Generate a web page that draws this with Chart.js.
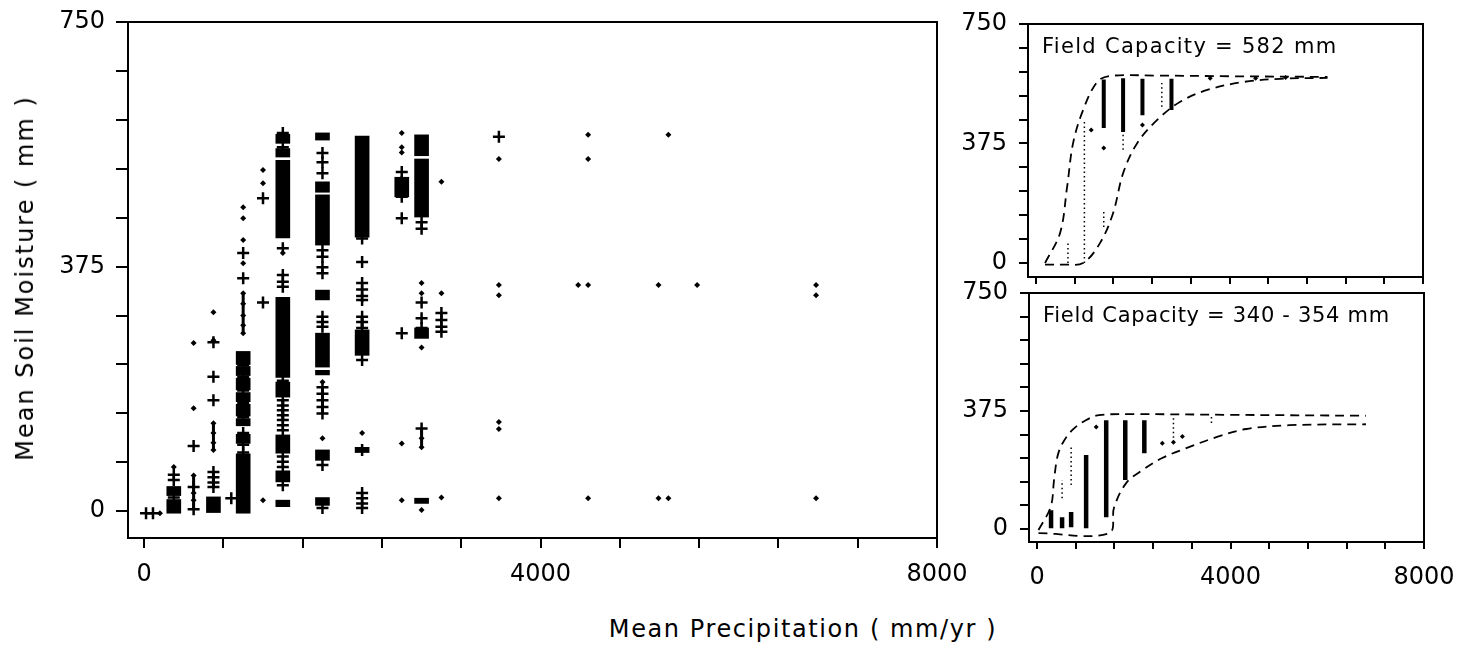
<!DOCTYPE html>
<html>
<head>
<meta charset="utf-8">
<script src="https://cdn.jsdelivr.net/npm/chart.js@4"></script>
<style>
  body { margin: 0; background: #fff; width: 1469px; height: 649px; overflow: hidden; position: relative; font-family: "DejaVu Sans", sans-serif; color: #000; }
  .box { position: absolute; }
  .lbl { position: absolute; white-space: nowrap; line-height: 1; }
</style>
</head>
<body>
<div class="box" style="left:0;top:0;width:985px;height:600px"><canvas id="mainChart"></canvas></div>
<div class="box" style="left:960px;top:0;width:500px;height:290px"><canvas id="topChart"></canvas></div>
<div class="box" style="left:960px;top:270px;width:509px;height:330px"><canvas id="bottomChart"></canvas></div>

<div class="lbl" id="yTitle" style="left:25px;top:278px;font-size:24px;letter-spacing:2px;transform:translate(-50%,-50%) rotate(-90deg)">Mean Soil Moisture ( mm )</div>
<div class="lbl" style="left:803px;top:629px;font-size:24px;letter-spacing:1.6px;transform:translate(-50%,-50%)">Mean Precipitation ( mm/yr )</div>
<div class="lbl" style="left:1042px;top:46px;font-size:21px;letter-spacing:1.3px;transform:translateY(-50%)">Field Capacity = 582 mm</div>
<div class="lbl" style="left:1043px;top:315px;font-size:21px;letter-spacing:0.7px;transform:translateY(-50%)">Field Capacity = 340 - 354 mm</div>

<script>
// axis ticks
const xTickVals = [0, 800, 1600, 2400, 3200, 4000, 4800, 5600, 6400, 7200, 8000];
const xLabelVals = [0, 4000, 8000];
const yTickVals = [0, 75, 150, 225, 300, 375, 450, 525, 600, 675, 750];
const yLabelVals = [0, 375, 750];

// main panel: [precip, low, high] solid runs of overlapping points
const mainBlocks = [
  [300, -3, 18], [300, 24, 38],
  [700, -2, 22],
  [1000, 225, 245], [1000, 208, 222], [1000, 186, 204], [1000, 168, 182], [1000, 146, 164],
  [1000, 131, 142], [1000, 104, 118], [1000, -3, 88],
  [1400, 564, 578], [1400, 543, 556], [1400, 419, 538], [1400, 205, 328], [1400, 175, 198],
  [1400, 89, 117], [1400, 45, 62], [1400, 7, 17],
  [1800, 569, 580], [1800, 489, 505], [1800, 408, 485], [1800, 324, 339], [1800, 221, 273],
  [1800, 209, 216], [1800, 78, 94], [1800, 9, 21],
  [2200, 420, 575], [2200, 239, 278], [2200, 90, 98],
  [2600, 482, 512],
  [2800, 545, 577], [2800, 451, 540], [2800, 265, 281], [2800, 12, 20]
];
// thin runs (vertical arms of the crosses)
const mainThin = [
  [500, 3, 55], [700, 94, 135], [700, 37, 60], [1000, 273, 334], [1400, 140, 170],
  [1800, 150, 190], [2200, 281, 298], [2800, 98, 127]
];
// single "+" points [precip, moisture]
const mainCrosses = [
  [20, -3], [90, -3],
  [300, 48], [300, 56], [300, 21],
  [500, 100], [500, 37], [500, 3],
  [700, 259], [700, 206], [700, 170], [700, 60], [700, 52], [700, 44], [700, 37],
  [880, 20],
  [1000, 396], [1000, 357], [1000, 224], [1000, 206], [1000, 185], [1000, 166], [1000, 144],
  [1000, 120], [1000, 102], [1000, 90],
  [1200, 480], [1200, 320],
  [1400, 580], [1400, 558], [1400, 403], [1400, 362], [1400, 352], [1400, 344], [1400, 300],
  [1400, 270], [1400, 238], [1400, 200], [1400, 170], [1400, 162], [1400, 155], [1400, 147],
  [1400, 140], [1400, 132], [1400, 124], [1400, 84], [1400, 76], [1400, 68], [1400, 40],
  [1800, 549], [1800, 535], [1800, 518], [1800, 400], [1800, 390], [1800, 374], [1800, 365],
  [1800, 298], [1800, 290], [1800, 283], [1800, 190], [1800, 180], [1800, 170], [1800, 160],
  [1800, 150], [1800, 71], [1800, 5],
  [2200, 418], [2200, 382], [2200, 350], [2200, 340], [2200, 330], [2200, 324], [2200, 298],
  [2200, 290], [2200, 281], [2200, 232], [2200, 94], [2200, 28], [2200, 20], [2200, 12], [2200, 5],
  [2600, 520], [2600, 505], [2600, 495], [2600, 482], [2600, 449], [2600, 273],
  [2800, 443], [2800, 433], [2800, 320], [2800, 296], [2800, 281], [2800, 127],
  [3000, 304], [3000, 293], [3000, 283], [3000, 275],
  [3580, 574]
];
// small diamond dots
const mainDots = [
  [160, -3],
  [300, 68],
  [500, 258], [500, 158], [500, 55], [500, 28], [500, 17],
  [700, 305], [700, 262], [700, 135], [700, 120], [700, 105], [700, 94],
  [1000, 466], [1000, 449], [1000, 416], [1000, 380], [1000, 334], [1000, 318], [1000, 300],
  [1000, 285], [1000, 273],
  [1200, 523], [1200, 503], [1200, 17],
  [1400, 396],
  [1800, 198], [1800, 112],
  [2200, 120],
  [2600, 580], [2600, 558], [2600, 550], [2600, 104], [2600, 17],
  [2800, 350], [2800, 334], [2800, 251], [2800, 112], [2800, 98], [2800, 2],
  [3000, 505], [3000, 334], [3000, 21],
  [3580, 540], [3580, 347], [3580, 331], [3580, 137], [3580, 126], [3580, 20],
  [4380, 347],
  [4480, 577], [4480, 540], [4480, 347], [4480, 20],
  [5190, 347], [5190, 20],
  [5290, 577], [5290, 20],
  [5580, 347],
  [6780, 347], [6780, 331], [6780, 20]
];

// top right panel (field capacity 582 mm)
const topUpperX = [186, 497, 642, 766, 973, 1263, 1532, 2500, 4000, 6025];
const topUpperY = [0, 94, 238, 376, 480, 568, 587, 588, 586, 584];
const topLowerX = [186, 600, 973, 1325, 1594, 1801, 2091, 2505, 2981, 3540, 4286, 5052, 6025];
const topLowerY = [-5, -5, 0, 63, 157, 282, 376, 449, 506, 543, 568, 578, 581];
const topThick = [[1400, 424, 576], [1800, 411, 580], [2200, 464, 578], [2800, 480, 578]];
const topDotted = [[1000, 0, 450], [1400, 113, 160], [1800, 355, 411], [2600, 490, 565], [660, 0, 70]];
const topDots = [[1400, 361], [2200, 433], [1140, 417], [3600, 580], [4540, 580], [5160, 582]];

// bottom right panel (field capacity 340-354 mm)
const botUpperX = [30, 283, 352, 421, 525, 732, 1009, 1285, 2000, 4000, 6800];
const botUpperY = [-3, 71, 156, 230, 272, 315, 346, 362, 365, 363, 360];
const botLowerX = [30, 1490, 1594, 1843, 2174, 2588, 3085, 3706, 4327, 5217, 6800];
const botLowerY = [-13, -13, 70, 146, 187, 226, 257, 292, 318, 330, 333];
const botThick = [[290, 3, 60], [518, 3, 38], [705, 6, 54], [1015, 3, 235], [1430, 38, 346], [1824, 156, 346], [2218, 241, 346]];
const botDotted = [[518, 98, 156], [705, 140, 260], [2820, 276, 362], [3606, 337, 362]];
const botDots = [[2590, 273], [2820, 276], [3005, 294], [1223, 324]];

Chart.defaults.font.family = 'DejaVu Sans';
Chart.defaults.color = '#000';

const tickFont = { family: 'DejaVu Sans', size: 24 };

function pts(list) { return list.map(p => ({ x: p[0], y: p[1] })); }
function ranges(list) { return list.map(r => ({ x: r[0], y: [r[1], r[2]] })); }
function curve(xs, ys) { return xs.map((x, i) => ({ x: x, y: ys[i] })); }
// vertical segments as one line with gaps between them
function segs(list) {
  const out = [];
  list.forEach(s => { out.push({ x: s[0], y: s[1] }, { x: s[0], y: s[2] }, { x: s[0], y: null }); });
  return out;
}

function crossSet(list, r) {
  return { type: 'scatter', data: pts(list), pointStyle: 'cross', pointRadius: r, borderColor: '#000', pointBorderWidth: 2.5 };
}
function dotSet(list, r) {
  return { type: 'scatter', data: pts(list), pointStyle: 'rectRot', pointRadius: r, backgroundColor: '#000', borderColor: '#000', pointBorderWidth: 0 };
}
function vLines(list, w, dash) {
  return { type: 'line', data: segs(list), borderColor: '#000', borderWidth: w, borderDash: dash, pointRadius: 0, spanGaps: false, tension: 0 };
}
function envelope(xs, ys) {
  return { type: 'line', data: curve(xs, ys), borderColor: '#000', borderWidth: 1.8, borderDash: [9, 6], pointRadius: 0, tension: 0.35, fill: false };
}

// box round the plot area
const frame = {
  id: 'frame',
  afterDraw(chart) {
    const a = chart.chartArea, ctx = chart.ctx;
    ctx.save();
    ctx.strokeStyle = '#000';
    ctx.lineWidth = 2;
    ctx.strokeRect(a.left, a.top, a.right - a.left, a.bottom - a.top);
    ctx.restore();
  }
};

function makeChart(id, datasets, g) {
  return new Chart(document.getElementById(id), {
    type: 'scatter',
    data: { datasets: datasets },
    options: {
      responsive: true,
      maintainAspectRatio: false,
      animation: false,
      layout: { padding: { top: g.padTop, right: g.padRight, left: 0, bottom: 0 } },
      plugins: { legend: { display: false }, tooltip: { enabled: false } },
      scales: {
        x: {
          type: 'linear', min: g.xMin, max: 8000, offset: false,
          afterBuildTicks: s => { s.ticks = xTickVals.map(v => ({ value: v })); },
          afterFit: s => { s.height = g.xHeight; s.paddingLeft = 0; s.paddingRight = 0; },
          ticks: {
            display: g.xLabels, autoSkip: false, maxRotation: 0, padding: g.xPad, font: tickFont, color: '#000',
            callback: v => xLabelVals.includes(v) ? String(v) : ''
          },
          grid: { display: true, drawOnChartArea: false, drawTicks: true, tickLength: g.xTick, color: '#000', lineWidth: 2, offset: false },
          border: { display: true, color: '#000', width: 2 }
        },
        y: {
          type: 'linear', min: g.yMin, max: 750, stacked: false,
          afterBuildTicks: s => { s.ticks = yTickVals.map(v => ({ value: v })); },
          afterFit: s => { s.width = g.yWidth; s.paddingTop = 0; s.paddingBottom = 0; },
          ticks: {
            autoSkip: false, padding: g.yPad, font: tickFont, color: '#000',
            callback: v => yLabelVals.includes(v) ? String(v) : ''
          },
          grid: { display: true, drawOnChartArea: false, drawTicks: true, tickLength: g.yTick, color: '#000', lineWidth: 2 },
          border: { display: true, color: '#000', width: 2 }
        }
      }
    },
    plugins: [frame]
  });
}

makeChart('mainChart', [
  crossSet(mainCrosses, 6),
  dotSet(mainDots, 3),
  vLines(mainThin, 3, []),
  { type: 'bar', data: ranges(mainBlocks), backgroundColor: '#000', borderWidth: 0, barThickness: 14 }
], { padTop: 22, padRight: 48, yWidth: 128, xHeight: 62, yTick: 12, xTick: 10, yPad: 11, xPad: 12, yMin: -41, xMin: -162, xLabels: true });

makeChart('topChart', [
  dotSet(topDots, 2.5),
  vLines(topThick, 4, []),
  vLines(topDotted, 1.5, [1.5, 3]),
  envelope(topUpperX, topUpperY),
  envelope(topLowerX, topLowerY)
], { padTop: 24, padRight: 37, yWidth: 68, xHeight: 13, yTick: 9, xTick: 7, yPad: 12, xPad: 0, yMin: -44, xMin: -166, xLabels: false });

makeChart('bottomChart', [
  dotSet(botDots, 2.5),
  vLines(botThick, 4.5, []),
  vLines(botDotted, 1.5, [1.5, 3]),
  envelope(botUpperX, botUpperY),
  envelope(botLowerX, botLowerY)
], { padTop: 23, padRight: 45, yWidth: 69, xHeight: 58, yTick: 9, xTick: 7, yPad: 12, xPad: 14, yMin: -41, xMin: -166, xLabels: true });
</script>
</body>
</html>
